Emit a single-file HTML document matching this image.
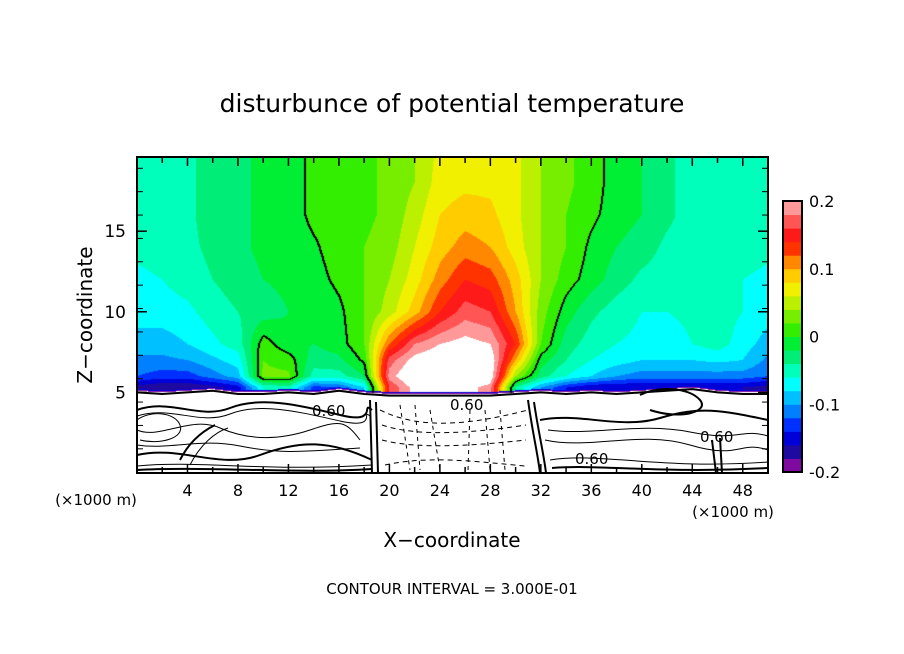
<!DOCTYPE html>
<html><head><meta charset="utf-8">
<style>
body{margin:0;background:#fff;}
#wrap{position:relative;width:904px;height:654px;overflow:hidden;background:#fff;font-family:"DejaVu Sans","Liberation Sans",sans-serif;}
canvas{position:absolute;left:137px;top:157px;}
svg{position:absolute;left:0;top:0;}
text{font-family:"DejaVu Sans","Liberation Sans",sans-serif;fill:#000;}
</style></head>
<body>
<div id="wrap">
<canvas id="cv" width="631" height="316"></canvas>
<svg id="sv" width="904" height="654">
  <text x="452" y="112" text-anchor="middle" font-size="25">disturbunce of potential temperature</text>
  <text transform="translate(92,315) rotate(-90)" text-anchor="middle" font-size="20">Z−coordinate</text>
  <text x="452" y="547" text-anchor="middle" font-size="20">X−coordinate</text>
  <text x="96" y="505" text-anchor="middle" font-size="15">(×1000 m)</text>
  <text x="733" y="517" text-anchor="middle" font-size="15">(×1000 m)</text>
  <text x="452" y="594" text-anchor="middle" font-size="15">CONTOUR INTERVAL = 3.000E-01</text>
  <g id="below" fill="none" stroke="#000" stroke-width="1">
    <path d="M137,410 C170,398 200,420 230,408 S300,405 340,415 S360,400 372,410" stroke-width="2"/>
    <path d="M137,416 C170,405 200,426 230,414 S300,412 340,421 S360,408 370,416"/>
    <path d="M137,430 C160,440 190,415 220,428 S280,440 310,430 S345,420 360,440"/>
    <path d="M137,445 C170,450 200,438 240,446 S300,452 360,448"/>
    <path d="M137,455 C180,445 220,470 260,455 S330,440 372,460" stroke-width="2"/>
    <path d="M137,466 C200,460 260,472 372,465"/>
    <path d="M137,470 C200,466 300,474 372,469" stroke-width="2"/>
    <path d="M137,420 C150,410 175,412 180,425 S160,445 140,440"/>
    <path d="M370,400 L372,473 M376,402 L378,473" stroke-width="2"/>
    <path d="M528,400 C532,430 538,455 540,473 M534,402 C538,430 544,455 546,473" stroke-width="2"/>
    <path d="M540,420 C580,412 620,430 660,418 S720,410 768,420" stroke-width="2"/>
    <path d="M545,440 C590,450 640,430 690,445 S740,440 768,450"/>
    <path d="M548,430 C590,436 640,422 690,432 S740,428 768,436"/>
    <path d="M550,460 C600,452 660,470 768,462"/>
    <path d="M552,468 C600,464 660,474 768,468" stroke-width="2"/>
    <path d="M640,395 C660,385 690,388 700,400 S680,420 650,410" stroke-width="2"/>
    <path d="M712,440 L716,473 M720,438 L722,473" stroke-width="2"/>
    <path d="M180,460 C190,440 205,430 215,425" stroke-width="2"/>
    <path d="M190,465 C200,445 215,432 228,428"/>
    <path d="M380,410 C420,430 470,425 528,410" stroke-dasharray="5,4"/>
    <path d="M382,425 C420,438 480,432 526,425" stroke-dasharray="5,4"/>
    <path d="M382,440 C420,450 480,445 526,440" stroke-dasharray="5,4"/>
    <path d="M385,465 C430,455 480,462 525,466" stroke-dasharray="5,4"/>
    <path d="M400,405 L410,470 M430,410 L440,470 M470,410 L468,470 M500,410 L505,470 M415,405 L420,470 M485,410 L490,470" stroke-dasharray="4,4"/>
  </g>
  <g font-size="15">
    <text x="312" y="416">0.60</text><text x="450" y="410">0.60</text>
    <text x="575" y="464">0.60</text><text x="700" y="442">0.60</text>
  </g>
  <g id="axes"></g>
  <g id="cbar"></g>
</svg>
</div>
<script>
// ---- data ----
const xs = [0,2,4,6,8,10,12,14,16,18,20,22,24,26,28,30,32,34,36,38,40,42,44,46,48,50];
const zs = [5.3,6,7,8,10,12,14,16,18,20];
const row53 = [-17,-18,-18,-17,-15,-6,-5,-13,-12,-8,16,21,21,21,19,-4,-10,-14,-16,-16,-16,-16,-16,-16,-16,-17];
const row6  = [-12,-13,-13,-11,-9,2.5,2.5,-5,-5,-2,19,23,23,23,22,4,-3,-6,-8,-10,-11,-11,-11,-11,-11,-12];
const row7  = [-10.5,-10.5,-10,-8.5,-7,2,1,-3,-2.5,0.5,17,21,22,23,22,10,-1,-4,-6,-7,-8,-8,-8,-7.5,-8,-10.5];
const row8  = [-9,-9,-8,-6.5,-5,1,-1.5,-2,-1,2,12,18,20,21,20,14,2,-3,-5,-6,-6.5,-7,-6,-5,-7,-9];
const row10 = [-7,-7,-6.5,-5,-4,-3,-2,-1.5,-0.5,2,5,9,14,17,16,10,3,-1,-3.5,-5,-6,-6,-5.5,-5,-6,-7];
const row12 = [-6.5,-6,-5,-4,-3,-2,-1.5,-0.8,0.5,2,4,7,11,14,13,9,4,1,-1,-3,-4.5,-5,-5,-5.5,-6,-6.5];
const row14 = [-5.5,-5,-4.5,-3.5,-2.5,-1.5,-1,-0.3,1,2,3,6,9,11,10,7,4,2,-0.5,-2,-3,-4.5,-5,-5,-5,-5.5];
const row16 = [-5,-5,-4.5,-3,-2.5,-1.5,-1,0.5,1,1.5,2.5,5,8,9,8.5,6.5,4,2,0.5,-1,-2,-3.5,-5,-5,-5,-5];
const row18 = [-5,-5,-4.5,-3,-2.5,-1.5,-1,0.5,1,1.5,2.5,4,7,7.5,7.5,6.5,4,2.5,1,-1,-2,-3.5,-5,-5,-5,-5];
const row20 = [-5,-5,-4.5,-3,-2.5,-1.5,-1,0.5,1,1.5,2.5,4,6.5,7,7,6.5,4,2.5,1,-1,-2,-3.5,-5,-5,-5,-5];
const rows = [row53,row6,row7,row8,row10,row12,row14,row16,row18,row20];
const surface = [5.1,5.0,5.1,5.2,5.0,5.0,5.1,5.0,5.2,5.0,4.9,4.9,4.9,4.9,4.9,5.0,5.1,5.0,5.1,5.0,5.1,5.2,5.3,5.1,5.0,5.0];
const levelColors = ["#7f0aa0","#1e0aa0","#0000d8","#0030ff","#0080ff","#00c0ff","#00ffff","#00ffbb","#00ee77","#00ee33","#33ee00","#77ee00","#bbf000","#f0f000","#ffcc00","#ff8800","#ff3300","#ff1a1a","#ff5555","#ff9999"];
const cbarTicks = ["-0.2","-0.1","0","0.1","0.2"];
const cbarTickVals = [-0.2,-0.1,0,0.1,0.2];
const xTicks = [4,8,12,16,20,24,28,32,36,40,44,48];
const yTicks = [5,10,15];
// ---- axes ----
const X0=137,X1=768,Y0=473,Y1=157,XMAX=50,ZMAX=19.6;
const sx = x => X0 + x/XMAX*(X1-X0);
const sz = z => Y0 - z/ZMAX*(Y0-Y1);
function interpRow(r,x){let i=Math.min(Math.floor(x/2),xs.length-2);let t=(x-xs[i])/(xs[i+1]-xs[i]);return r[i]*(1-t)+r[i+1]*t;}
function field(x,z){
  if(z<=zs[0]) return interpRow(rows[0],x)/100;
  let j=0; while(j<zs.length-2 && z>zs[j+1]) j++;
  let t=Math.min(1,(z-zs[j])/(zs[j+1]-zs[j]));
  return (interpRow(rows[j],x)*(1-t)+interpRow(rows[j+1],x)*t)/100;
}
const cv=document.getElementById('cv'),ctx=cv.getContext('2d');
const W=cv.width,H=cv.height,img=ctx.createImageData(W,H);
const vals=new Float32Array(W*H),mask=new Uint8Array(W*H);
function hex(c){return [parseInt(c.substr(1,2),16),parseInt(c.substr(3,2),16),parseInt(c.substr(5,2),16)];}
const rgb=levelColors.map(hex);
for(let py=0;py<H;py++)for(let px=0;px<W;px++){
  const x=(px+0.5)/W*XMAX, z=(H-py-0.5)/H*ZMAX;
  const k=py*W+px;
  const sf=interpRow(surface,x);
  let c=[255,255,255];
  if(z>sf){
    const v=field(x,z); vals[k]=v; mask[k]=1;
    if(v<0.2){let idx=Math.floor((v+0.2)/0.02); if(idx<0)idx=0; c=rgb[idx];}
    if(z<sf+0.12) c=rgb[z<sf+0.06?0:2];
  }
  img.data[k*4]=c[0];img.data[k*4+1]=c[1];img.data[k*4+2]=c[2];img.data[k*4+3]=255;
}
for(let py=0;py<H-1;py++)for(let px=0;px<W-1;px++){
  const k=py*W+px;
  if(!mask[k])continue;
  const a=vals[k]>=0;
  if((mask[k+1]&&(vals[k+1]>=0)!==a)||(mask[k+W]&&(vals[k+W]>=0)!==a)){
    for(const kk of [k,k+1]){img.data[kk*4]=0;img.data[kk*4+1]=0;img.data[kk*4+2]=0;}
  }
}
ctx.putImageData(img,0,0);
const NS='http://www.w3.org/2000/svg';
const sv=document.getElementById('sv'),axes=document.getElementById('axes');
let d='';for(let i=0;i<xs.length;i++){d+=(i?'L':'M')+sx(xs[i])+','+sz(surface[i]-0.1);}
const bl=document.createElementNS(NS,'path');


bl.setAttribute('d',d);bl.setAttribute('fill','none');bl.setAttribute('stroke','#000');bl.setAttribute('stroke-width','2');
document.getElementById('below').appendChild(bl);
function mk(tag,attrs,parent){const e=document.createElementNS(NS,tag);for(const k in attrs)e.setAttribute(k,attrs[k]);parent.appendChild(e);return e;}
const frame=mk('rect',{x:X0,y:Y1,width:X1-X0,height:Y0-Y1,fill:'none',stroke:'#000','stroke-width':2},axes);


for(let x=2;x<XMAX;x+=2){const L=(x%4===0)?9:6;
  mk('line',{x1:sx(x),x2:sx(x),y1:Y0,y2:Y0-L,stroke:'#000','stroke-width':1.5},axes);
  mk('line',{x1:sx(x),x2:sx(x),y1:Y1,y2:Y1+L,stroke:'#000','stroke-width':1.5},axes);}
for(let z=1.5;z<ZMAX;z+=1.45){mk('line',{x1:X0,x2:X0+6,y1:sz(z),y2:sz(z),stroke:'#000'},axes);mk('line',{x1:X1,x2:X1-6,y1:sz(z),y2:sz(z),stroke:'#000'},axes);}
xTicks.forEach(v=>{
  const t=mk('text',{x:sx(v),y:496,'text-anchor':'middle','font-size':16},axes);t.textContent=v;
  
  
});
yTicks.forEach(v=>{
  mk('line',{x1:X0,x2:X0+10,y1:sz(v),y2:sz(v),stroke:'#000','stroke-width':1.5},axes);
  mk('line',{x1:X1,x2:X1-10,y1:sz(v),y2:sz(v),stroke:'#000','stroke-width':1.5},axes);
  const t=mk('text',{x:126,y:sz(v)+6,'text-anchor':'end','font-size':17},axes);t.textContent=v;
  
  
});
const cb=document.getElementById('cbar');
const CX=783,CW=19,CT=201,CB=472,step=(CB-CT)/levelColors.length;
levelColors.forEach((c,i)=>{
  const r=mk('rect',{x:CX,y:CB-(i+1)*step,width:CW,height:step+0.5,fill:c},cb);
  
  
});
mk('rect',{x:CX,y:CT,width:CW,height:CB-CT,fill:'none',stroke:'#000','stroke-width':2},cb);
cbarTickVals.forEach((v,i)=>{
  const y=CB-(v+0.2)/0.4*(CB-CT);
  const t=mk('text',{x:809,y:y+6,'font-size':16},cb);t.textContent=cbarTicks[i];
  
  
});
</script>
</body></html>
